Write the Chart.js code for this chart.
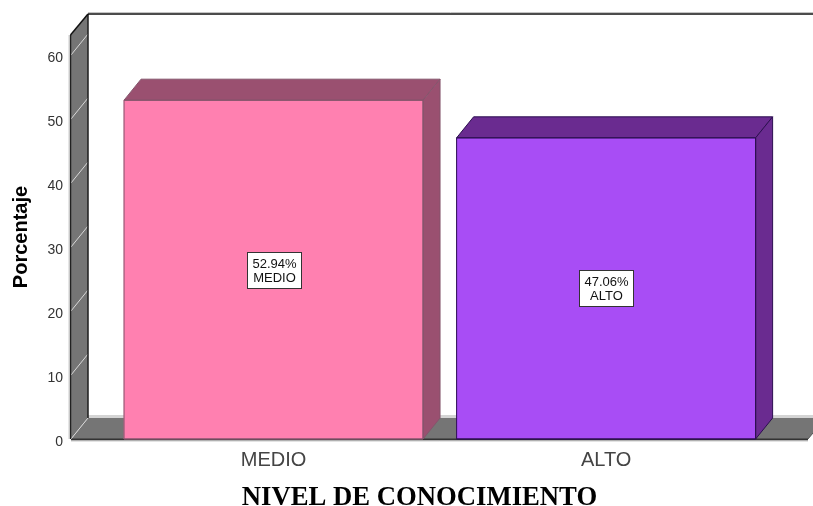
<!DOCTYPE html>
<html>
<head>
<meta charset="utf-8">
<style>
  html, body { margin: 0; padding: 0; background: #fff; }
  canvas { display: block; }
</style>
</head>
<body>
<canvas id="chart" width="813" height="506"></canvas>
<script src="https://cdn.jsdelivr.net/npm/chart.js@4"></script>
<script>
const categories = ['MEDIO', 'ALTO'];
const percentages = [52.94, 47.06];
const frontColors = ['#ff80b0', '#a84df5'];
const topColors = ['#9a5070', '#6a2b90'];
const edgeColors = ['#84556c', '#2c0f50'];
const yTicks = [0, 10, 20, 30, 40, 50, 60];
const xTitle = 'NIVEL DE CONOCIMIENTO';

// depth of the fake 3D box, in px
const DX = 17;
const DY = -21;

function poly(ctx, pts, fill, stroke, width) {
    ctx.beginPath();
    pts.forEach((p, i) => i ? ctx.lineTo(p[0], p[1]) : ctx.moveTo(p[0], p[1]));
    ctx.closePath();
    if (fill) { ctx.fillStyle = fill; ctx.fill(); }
    if (stroke) { ctx.strokeStyle = stroke; ctx.lineWidth = width || 1; ctx.stroke(); }
}

function line(ctx, x1, y1, x2, y2, color, width) {
    ctx.beginPath();
    ctx.moveTo(x1, y1);
    ctx.lineTo(x2, y2);
    ctx.strokeStyle = color;
    ctx.lineWidth = width;
    ctx.stroke();
}

// back wall, left wall and floor go under the bars
const roomPlugin = {
    id: 'room',
    beforeDatasetsDraw(chart) {
        const ctx = chart.ctx;
        const { left, right, top, bottom } = chart.chartArea;
        const y = chart.scales.y;
        const w = chart.width;
        ctx.save();

        // floor
        poly(ctx, [[left, bottom], [left + DX, bottom + DY], [w, bottom + DY], [w, bottom + DY + 15], [right, bottom]], '#757575');
        line(ctx, left + DX, bottom + DY - 1.5, w, bottom + DY - 1.5, '#d4d4d4', 3);
        line(ctx, left, bottom + 0.5, right, bottom + 0.5, '#333333', 2);
        line(ctx, left, bottom + 2, right, bottom + 2, '#c8c8c8', 1);
        line(ctx, right, bottom, w, bottom + DY + 15, '#555555', 1);

        // left wall
        poly(ctx, [[left, top], [left + DX, top + DY], [left + DX, bottom + DY], [left, bottom]], '#757575');
        y.ticks.forEach(t => {
            const py = y.getPixelForValue(t.value);
            line(ctx, left, py, left + DX, py + DY, '#d8d8d8', 1);
        });
        line(ctx, left - 0.5, top, left - 0.5, bottom, '#222222', 1.5);
        line(ctx, left - 2, top, left - 2, bottom, '#cccccc', 1);
        line(ctx, left + DX, top + DY, left + DX, bottom + DY, '#1c1c1c', 1.5);
        line(ctx, left - 0.5, top, left + DX, top + DY, '#111111', 1.5);

        // top edge of the back wall
        line(ctx, left + DX, top + DY, w, top + DY, '#111111', 1.5);
        line(ctx, left + DX, top + DY - 1.5, w, top + DY - 1.5, '#c4c4c4', 1);
        ctx.restore();
    },
    afterDatasetsDraw(chart) {
        const ctx = chart.ctx;
        const meta = chart.getDatasetMeta(0);
        ctx.save();
        meta.data.forEach((bar, i) => {
            const l = bar.x - bar.width / 2;
            const r = bar.x + bar.width / 2;
            const t = bar.y;
            const b = bar.base;
            poly(ctx, [[l, t], [l + DX, t + DY], [r + DX, t + DY], [r, t]], topColors[i], edgeColors[i], 1);
            poly(ctx, [[r, t], [r + DX, t + DY], [r + DX, b + DY], [r, b]], topColors[i], edgeColors[i], 1);
            line(ctx, l, t, r, t, edgeColors[i], 1);
            line(ctx, r, t, r, b, edgeColors[i], 1);
            line(ctx, l, t, l, b, edgeColors[i], 1);
            line(ctx, l, b, r, b, edgeColors[i], 1.5);

            // value box in the middle of the bar
            const cx = Math.round(bar.x);
            const cy = Math.round((t + b) / 2);
            ctx.fillStyle = '#ffffff';
            ctx.fillRect(cx - 26, cy - 17, 53, 35);
            ctx.strokeStyle = '#333333';
            ctx.lineWidth = 1;
            ctx.strokeRect(cx - 26.5, cy - 17.5, 54, 36);
            ctx.fillStyle = '#111111';
            ctx.font = '13px "Liberation Sans"';
            ctx.textAlign = 'center';
            ctx.textBaseline = 'middle';
            ctx.fillText(percentages[i].toFixed(2) + '%', cx + 0.5, cy - 6);
            ctx.fillText(categories[i], cx + 0.5, cy + 8);
        });

        // axis title sits left of the plot centre, so the scale title can't place it
        ctx.fillStyle = '#000000';
        ctx.font = 'bold 26.7px "Liberation Serif"';
        ctx.textAlign = 'center';
        ctx.textBaseline = 'middle';
        ctx.fillText(xTitle, 419.5, 498);
        ctx.restore();
    }
};

// y tick labels sit a bit below their tick in the original
function nudgeLabels(axis) {
    if (axis.nudged) return;
    axis.nudged = true;
    const drawLabels = axis.drawLabels;
    axis.drawLabels = function () {
        axis.ctx.save();
        axis.ctx.translate(0, 3.5);
        drawLabels.call(axis);
        axis.ctx.restore();
    };
}

new Chart(document.getElementById('chart').getContext('2d'), {
    type: 'bar',
    data: {
        datasets: [{
            data: percentages.map((v, i) => ({ x: i, y: v })),
            backgroundColor: frontColors,
            borderWidth: 0,
            barThickness: 299
        }]
    },
    plugins: [roomPlugin],
    options: {
        responsive: false,
        animation: false,
        layout: { padding: { top: 35, right: 5, left: 0, bottom: 0 } },
        plugins: { legend: { display: false }, tooltip: { enabled: false } },
        scales: {
            x: {
                type: 'linear',
                offset: false,
                min: -0.609,
                max: 1.607,
                grid: { display: false },
                border: { display: false },
                afterBuildTicks(axis) {
                    axis.ticks = categories.map((c, i) => ({ value: i }));
                },
                afterFit(axis) { axis.height = 67; },
                ticks: {
                    autoSkip: false,
                    maxRotation: 0,
                    padding: 1,
                    color: '#444444',
                    font: { family: '"Liberation Sans"', size: 20 },
                    callback: v => categories[v]
                }
            },
            y: {
                min: 0,
                max: 63.125,
                grid: { display: false },
                border: { display: false },
                afterBuildTicks(axis) {
                    axis.ticks = yTicks.map(v => ({ value: v }));
                },
                afterFit(axis) { axis.width = 71; },
                afterUpdate: nudgeLabels,
                ticks: {
                    includeBounds: false,
                    padding: 0,
                    color: '#333333',
                    font: { family: '"Liberation Sans"', size: 14 }
                },
                title: {
                    display: true,
                    text: 'Porcentaje',
                    color: '#000000',
                    font: { family: '"Liberation Sans"', size: 20, weight: 'bold' },
                    padding: { top: 9, bottom: 0 }
                }
            }
        }
    }
});
</script>
</body>
</html>
